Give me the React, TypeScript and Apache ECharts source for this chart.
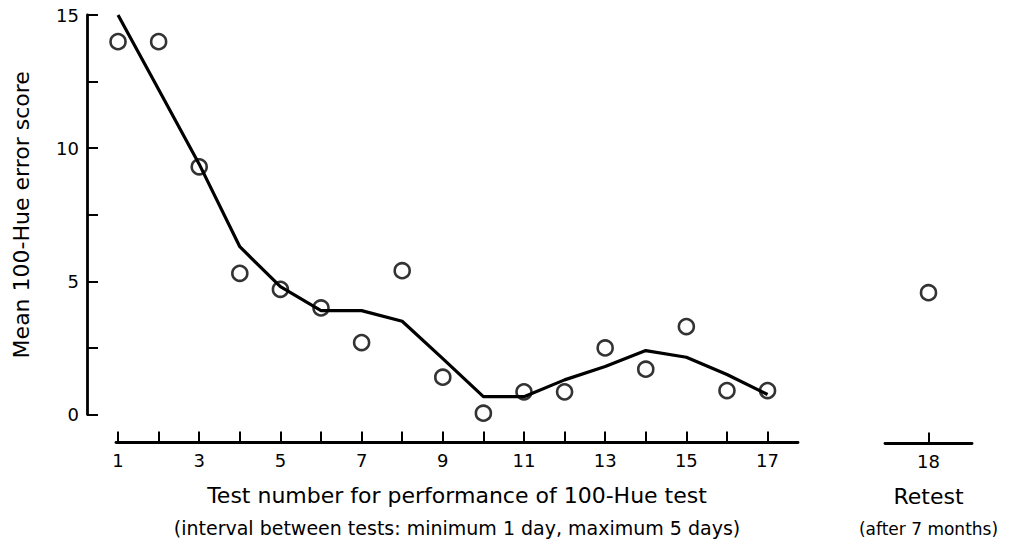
import React, { useEffect, useRef } from "react";
import * as echarts from "echarts";

const testNumbers = [1, 2, 3, 4, 5, 6, 7, 8, 9, 10, 11, 12, 13, 14, 15, 16, 17];
const meanScores = [14.0, 14.0, 9.3, 5.3, 4.7, 4.0, 2.7, 5.4, 1.4, 0.05, 0.85, 0.85, 2.5, 1.7, 3.3, 0.9, 0.9];
const trendScores = [15.0, 12.2, 9.4, 6.3, 4.8, 3.9, 3.9, 3.5, 2.1, 0.67, 0.67, 1.3, 1.8, 2.4, 2.15, 1.5, 0.75];
const retestNumber = [18];
const retestScore = [4.6];
const xTickValues = testNumbers;
const xLabelValues = [1, 3, 5, 7, 9, 11, 13, 15, 17];
const yTickValues = [0, 2.5, 5, 7.5, 10, 12.5, 15];
const yLabelValues = [0, 5, 10, 15];

const FONT = "'DejaVu Sans', 'Liberation Sans', sans-serif";

export default function App() {
  const ref = useRef<HTMLDivElement>(null);
  useEffect(() => {
    document.body.style.margin = "0";
    const chart = echarts.init(ref.current!, null, { renderer: "svg" });
    const axisLineStyle = { color: "#000", width: 2.8 };
    const tickStyle = { color: "#000", width: 2 };
    const labelStyle = { color: "#000", fontSize: 18, fontFamily: FONT, margin: 9 };
    const nameRich = (subSize: number) => ({
      t: { fontSize: 22, fontFamily: FONT, color: "#000", lineHeight: 32 },
      s: { fontSize: subSize, fontFamily: FONT, color: "#000", lineHeight: 32 },
    });
    chart.setOption({
      animation: false,
      backgroundColor: "#fff",
      grid: [
        { left: 116, top: 15, width: 682, height: 401 },
        { left: 885, top: 15, width: 87, height: 401 },
      ],
      xAxis: [
        {
          type: "value",
          gridIndex: 0,
          min: 0.95,
          max: 17.75,
          offset: 28,
          position: "bottom",
          axisLine: { show: true, onZero: false, lineStyle: axisLineStyle },
          axisTick: { show: true, inside: true, length: 11, lineStyle: tickStyle, customValues: xTickValues },
          axisLabel: { ...labelStyle, customValues: xLabelValues },
          splitLine: { show: false },
          name:
            "{t|Test number for performance of 100-Hue test}\n{s|(interval between tests: minimum 1 day, maximum 5 days)}",
          nameLocation: "middle",
          nameGap: 37,
          nameTextStyle: { color: "#000", rich: nameRich(19) },
        },
        {
          type: "value",
          gridIndex: 1,
          min: 17.5,
          max: 18.5,
          offset: 28,
          position: "bottom",
          axisLine: { show: true, onZero: false, lineStyle: axisLineStyle },
          axisTick: { show: true, inside: true, length: 11, lineStyle: tickStyle, customValues: retestNumber },
          axisLabel: { ...labelStyle, customValues: retestNumber },
          splitLine: { show: false },
          name: "{t|Retest}\n{s|(after 7 months)}",
          nameLocation: "middle",
          nameGap: 37,
          nameTextStyle: { color: "#000", rich: nameRich(17) },
        },
      ],
      yAxis: [
        {
          type: "value",
          gridIndex: 0,
          min: 0,
          max: 15,
          offset: 29,
          axisLine: { show: true, onZero: false, lineStyle: axisLineStyle },
          axisTick: { show: true, inside: true, length: 11, lineStyle: tickStyle, customValues: yTickValues },
          axisLabel: { ...labelStyle, margin: 8, customValues: yLabelValues },
          splitLine: { show: false },
          name: "Mean 100-Hue error score",
          nameLocation: "middle",
          nameGap: 55,
          nameTextStyle: { color: "#000", fontSize: 22, fontFamily: FONT },
        },
        { type: "value", gridIndex: 1, min: 0, max: 15, show: false },
      ],
      series: [
        {
          type: "line",
          xAxisIndex: 0,
          yAxisIndex: 0,
          data: testNumbers.map((x, i) => [x, trendScores[i]]),
          showSymbol: false,
          lineStyle: { color: "#000", width: 3.2 },
          z: 2,
        },
        {
          type: "scatter",
          xAxisIndex: 0,
          yAxisIndex: 0,
          data: testNumbers.map((x, i) => [x, meanScores[i]]),
          symbol: "circle",
          symbolSize: 15,
          itemStyle: { color: "rgba(255,255,255,0)", borderColor: "#000", borderWidth: 2.6 },
          z: 3,
        },
        {
          type: "scatter",
          xAxisIndex: 1,
          yAxisIndex: 1,
          data: retestNumber.map((x, i) => [x, retestScore[i]]),
          symbol: "circle",
          symbolSize: 15,
          itemStyle: { color: "rgba(255,255,255,0)", borderColor: "#000", borderWidth: 2.6 },
          z: 3,
        },
      ],
    });
    return () => chart.dispose();
  }, []);
  return <div ref={ref} style={{ position: "fixed", left: 0, top: 0, width: 1013, height: 542 }} />;
}
